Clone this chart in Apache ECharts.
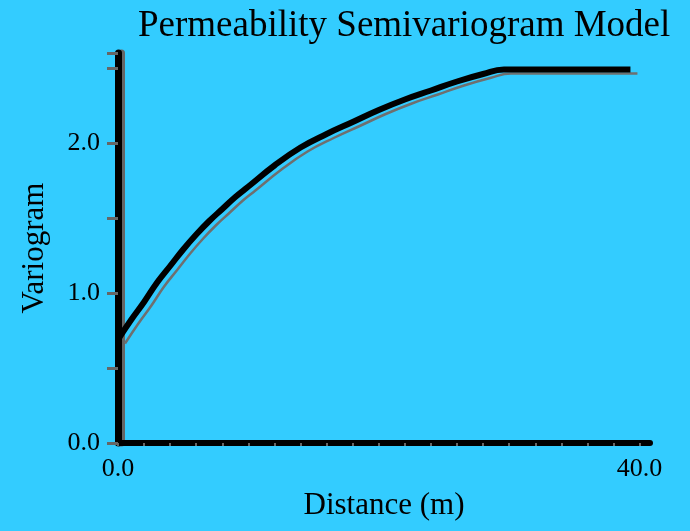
<!DOCTYPE html>
<html>
<head>
<meta charset="utf-8">
<script src="https://cdn.jsdelivr.net/npm/echarts@6/dist/echarts.min.js"></script>
<style>
  html, body { margin: 0; padding: 0; background: #33CCFF; }
  #chart { width: 690px; height: 531px; }
</style>
</head>
<body>
<div id="chart"></div>
<script>
// Semivariogram model: lag distance (m) and modelled variogram value
const distance  = [0, 1, 2, 3, 4, 5, 6, 7, 8, 9, 10, 12, 14, 16, 18, 20, 22, 24, 26, 28, 29.6, 39.3];
const variogram = [0.69, 0.82, 0.94, 1.07, 1.18, 1.29, 1.39, 1.48, 1.56, 1.64, 1.71, 1.85, 1.97, 2.06, 2.14, 2.22, 2.29, 2.35, 2.41, 2.46, 2.49, 2.49];

// Labelled tick values on each axis
const xLabelValues = [0, 40];
const yLabelValues = [0, 1, 2];

const titleText = 'Permeability Semivariogram Model';
const xName = 'Distance (m)';
const yName = 'Variogram';

const serif = "'Liberation Serif', 'Times New Roman', serif";
const points = distance.map((d, i) => [d, variogram[i]]);

const X_MAX = 40.8, Y_MAX = 2.6;

const chart = echarts.init(document.getElementById('chart'), null, { renderer: 'canvas' });

const option = {
  backgroundColor: '#33CCFF',
  animation: false,
  title: {
    text: titleText,
    left: 133,
    top: 3,
    textStyle: { fontFamily: serif, fontSize: 37, fontWeight: 'normal', color: '#000' }
  },
  grid: [
    { left: 118, top: 53, width: 532, height: 390 },
    // drop-shadow copy of the curve, shifted down and right
    { left: 125, top: 57, width: 532, height: 390 }
  ],
  xAxis: [
    {
      gridIndex: 0, type: 'value', min: 0, max: X_MAX, interval: 2,
      offset: 3,
      axisLine: { lineStyle: { color: '#000', width: 6 } },
      axisTick: { show: true, length: 3, lineStyle: { color: '#666', width: 2 } },
      splitLine: { show: false },
      axisLabel: {
        showMaxLabel: false,
        margin: 10,
        fontFamily: serif, fontSize: 26, color: '#000',
        formatter: v => xLabelValues.includes(v) ? v.toFixed(1) : ''
      },
      name: xName, nameLocation: 'middle', nameGap: 44,
      nameTextStyle: { fontFamily: serif, fontSize: 31, color: '#000' }
    },
    {
      gridIndex: 1, type: 'value', min: 0, max: X_MAX, show: false
    }
  ],
  yAxis: [
    {
      gridIndex: 0, type: 'value', min: 0, max: Y_MAX, interval: 0.5,
      offset: 4,
      axisLine: { lineStyle: { color: '#000', width: 7, shadowColor: '#666', shadowOffsetX: 3, shadowBlur: 0 } },
      axisTick: { show: true, length: 11, lineStyle: { color: '#666', width: 3 } },
      minorTick: { show: true, splitNumber: 5, length: 3, lineStyle: { color: '#000', width: 2 } },
      splitLine: { show: false },
      axisLabel: {
        showMaxLabel: false,
        margin: 14,
        fontFamily: serif, fontSize: 26, color: '#000',
        formatter: v => yLabelValues.includes(v) ? v.toFixed(1) : ''
      },
      name: yName, nameLocation: 'middle', nameGap: 64, nameRotate: 90,
      nameTextStyle: { fontFamily: serif, fontSize: 31, color: '#000' }
    },
    {
      gridIndex: 1, type: 'value', min: 0, max: Y_MAX, show: false
    }
  ],
  series: [
    {
      type: 'line', xAxisIndex: 1, yAxisIndex: 1, data: points,
      showSymbol: false, smooth: 0.45, z: 1,
      lineStyle: { color: '#6f6f6f', width: 2.5 }
    },
    {
      type: 'line', xAxisIndex: 0, yAxisIndex: 0, data: points,
      showSymbol: false, smooth: 0.45, z: 3,
      lineStyle: { color: '#000', width: 6, join: 'round' }
    }
  ]
};

chart.setOption(option);
</script>
</body>
</html>
